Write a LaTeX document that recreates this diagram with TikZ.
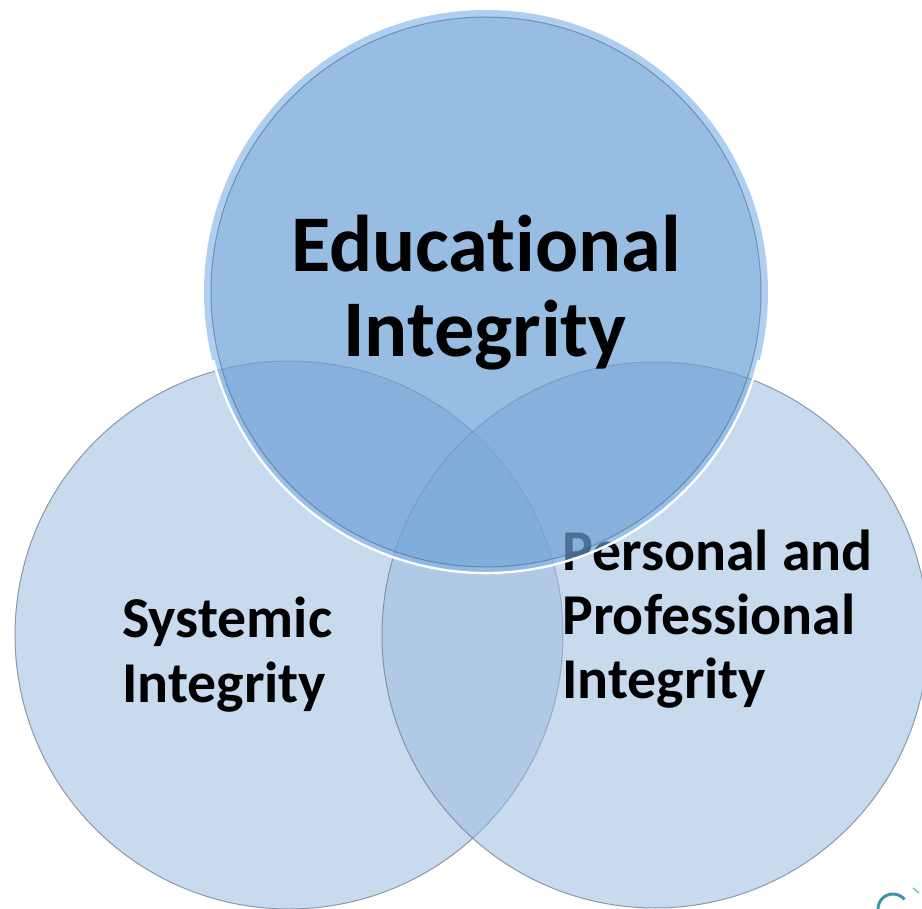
\documentclass[tikz,border=0pt]{standalone}
\usepackage{fontspec}
\setmainfont[RawFeature={-liga}]{Carlito}
\definecolor{sidebase}{RGB}{154,186,223}
\definecolor{sidestroke}{RGB}{120,132,148}
\definecolor{topbase}{RGB}{108,161,214}
\definecolor{rimbase}{RGB}{120,175,228}
\definecolor{topstroke}{RGB}{70,100,135}
\definecolor{logoteal}{RGB}{60,150,170}
\begin{document}
\begin{tikzpicture}[x=0.5pt,y=-0.5pt,
  sidecircle/.style={fill=sidebase,fill opacity=0.54,draw=sidestroke,draw opacity=0.8,line width=0.5pt},
  bigtext/.style={inner sep=0pt,font=\bfseries\fontsize{40.2}{42}\selectfont},
  midtext/.style={inner sep=0pt,font=\bfseries\fontsize{28.9}{30}\selectfont}]
\useasboundingbox (0,0) rectangle (922,909);
\begin{scope}
\clip (0,0) rectangle (922,909);
% side circles
\path[sidecircle] (289,635) circle[radius=274];
\path[sidecircle] (655,635) circle[radius=273];
% right text (partly under the top circle)
\node[midtext,anchor=base west] (p1) at (562,570) {Personal and};
\node[midtext,anchor=base west] (p2) at (562,634) {Professional};
\node[midtext,anchor=base west] (p3) at (562,698) {Integrity};
% top circle: rim ring and inner disc
\fill[rimbase,fill opacity=0.6,even odd rule] (486,292) circle[radius=282] (486,292) circle[radius=275];
\path[fill=topbase,fill opacity=0.7,draw=topstroke,draw opacity=0.55,line width=0.5pt] (486,292) circle[radius=275];
\draw[white,line width=1.2pt] (486,292) ++(14:281) arc[start angle=14,end angle=166,radius=281];
% logo fragment
\draw[logoteal,line width=1.5pt] (878,909) arc[start angle=180,end angle=320,radius=15];
\draw[logoteal!60,line width=0.8pt] (913,888) -- (919,893);
\end{scope}
% texts
\node[bigtext,anchor=base] (e1) at (486,272) {Educational};
\node[bigtext,anchor=base] (e2) at (485,357) {Integrity};
\node[midtext,anchor=base west] (s1) at (122,637) {Systemic};
\node[midtext,anchor=base west] (s2) at (122,702) {Integrity};
\end{tikzpicture}
\end{document}
